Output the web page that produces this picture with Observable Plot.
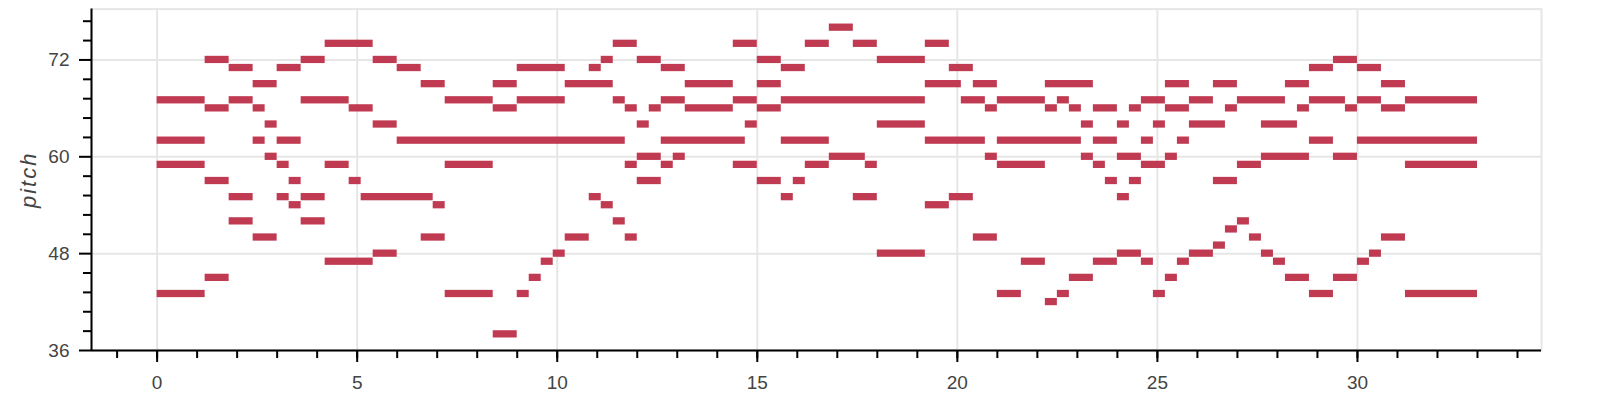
<!DOCTYPE html>
<html>
<head>
<meta charset="utf-8">
<script src="https://cdn.jsdelivr.net/npm/d3@7"></script>
<script src="https://cdn.jsdelivr.net/npm/@observablehq/plot@0.6"></script>
<style>
  html, body { margin: 0; padding: 0; background: #fff; }
</style>
</head>
<body>
<div id="chart"></div>
<script>
// Seconds per eighth-note step
const STEP = 0.3;

// Notes as [pitch, [[startStep, endStep], ...]] grouped by register
const upperRows = [
  [76, [[56,58]]],
  [74, [[14,18],[38,40],[48,50],[54,56],[58,60],[64,66]]],
  [72, [[4,6],[12,14],[18,20],[37,38],[40,42],[50,52],[60,64],[98,100]]],
  [71, [[6,8],[10,12],[20,22],[30,34],[36,37],[42,44],[52,54],[66,68],[96,98],[100,102]]],
  [69, [[8,10],[22,24],[28,30],[34,38],[44,48],[50,52],[64,67],[68,70],[74,78],[84,86],[88,90],[94,96],[102,104]]]
];
const middleUpperRows = [
  [67, [[0,4],[6,8],[12,16],[24,28],[30,34],[38,39],[42,44],[48,50],[52,64],[67,69],[70,74],[75,76],[82,84],[86,88],[90,94],[96,99],[100,102],[104,110]]],
  [66, [[4,6],[8,9],[16,18],[28,30],[39,40],[41,42],[44,48],[50,52],[69,70],[74,75],[76,77],[78,80],[81,82],[84,86],[89,90],[95,96],[99,100],[102,104]]],
  [64, [[9,10],[18,20],[40,41],[49,50],[60,64],[77,78],[80,81],[83,84],[86,89],[92,95]]],
  [62, [[0,4],[8,9],[10,12],[20,39],[42,49],[52,56],[64,69],[70,77],[78,80],[82,83],[85,86],[96,98],[100,110]]]
];
const middleLowerRows = [
  [60, [[9,10],[40,42],[43,44],[56,59],[69,70],[77,78],[80,82],[84,85],[92,96],[98,100]]],
  [59, [[0,4],[10,11],[14,16],[24,28],[39,40],[42,43],[48,50],[54,56],[59,60],[70,74],[78,79],[82,84],[90,92],[104,110]]],
  [57, [[4,6],[11,12],[16,17],[40,42],[50,52],[53,54],[79,80],[81,82],[88,90]]],
  [55, [[6,8],[10,11],[12,14],[17,23],[36,37],[52,53],[58,60],[66,68],[80,81]]],
  [54, [[11,12],[23,24],[37,38],[64,66]]]
];
const lowerRows = [
  [52, [[6,8],[12,14],[38,39],[90,91]]],
  [51, [[89,90]]],
  [50, [[8,10],[22,24],[34,36],[39,40],[68,70],[91,92],[102,104]]],
  [49, [[88,89]]],
  [48, [[18,20],[33,34],[60,64],[80,82],[86,88],[92,93],[101,102]]],
  [47, [[14,18],[32,33],[72,74],[78,80],[82,83],[85,86],[93,94],[100,101]]],
  [45, [[4,6],[31,32],[76,78],[84,85],[94,96],[98,100]]],
  [43, [[0,4],[24,28],[30,31],[70,72],[75,76],[83,84],[96,98],[104,110]]],
  [42, [[74,75]]],
  [38, [[28,30]]]
];

// Axis ticks and labels
const xMajorTicks = [0, 5, 10, 15, 20, 25, 30];
const xMinorTicks = [-1,0,1,2,3,4,5,6,7,8,9,10,11,12,13,14,15,16,17,18,19,20,21,22,23,24,25,26,27,28,29,30,31,32,33,34];
const yMajorTicks = [36, 48, 60, 72];
const yMinorTicks = [38.4, 40.8, 43.2, 45.6, 50.4, 52.8, 55.2, 57.6, 62.4, 64.8, 67.2, 69.6, 74.4, 76.8];
const yLabel = "pitch";

const xDomain = [-1.64, 34.6];
const yDomain = [36, 78.3];

const notes = [...upperRows, ...middleUpperRows, ...middleLowerRows, ...lowerRows]
  .flatMap(([pitch, spans]) => spans.map(([s, e]) => ({pitch, start: s * STEP, end: e * STEP})));

const BAR = "#c03a51";
const GRID = "#e6e6e6";

const chart = Plot.plot({
  width: 1600,
  height: 400,
  marginLeft: 91,
  marginRight: 59,
  marginTop: 8.6,
  marginBottom: 50,
  x: {domain: xDomain},
  y: {domain: yDomain},
  style: {fontFamily: "'Liberation Sans', Arial, Helvetica, sans-serif", background: "#fff"},
  marks: [
    Plot.frame({stroke: GRID, strokeWidth: 2}),
    Plot.gridX(xMajorTicks, {stroke: GRID, strokeOpacity: 1, strokeWidth: 2}),
    Plot.gridY(yMajorTicks, {stroke: GRID, strokeOpacity: 1, strokeWidth: 2}),
    Plot.rect(notes, {
      x1: "start", x2: "end",
      y1: d => d.pitch - 0.45, y2: d => d.pitch + 0.45,
      fill: BAR
    }),
    Plot.ruleY([yDomain[0]], {stroke: "#000", strokeWidth: 2}),
    Plot.ruleX([xDomain[0]], {stroke: "#000", strokeWidth: 2}),
    // x axis
    Plot.axisX(xMinorTicks, {tickSize: 8, text: null, label: null, stroke: "#000", strokeWidth: 2}),
    Plot.axisX(xMajorTicks, {tickSize: 12, tickPadding: 13, label: null,
      tickFormat: d => String(d), stroke: "#000", fill: "#444", strokeWidth: 2}),
    // y axis
    Plot.axisY(yMinorTicks, {tickSize: 8, text: null, label: null, stroke: "#000", strokeWidth: 2}),
    Plot.axisY(yMajorTicks, {tickSize: 12, tickPadding: 10, label: null,
      tickFormat: d => String(d), stroke: "#000", fill: "#444", strokeWidth: 2}),
    Plot.text([yLabel], {
      frameAnchor: "left", textAnchor: "middle", rotate: -90, dx: -63, text: d => d,
      fontSize: 22, fontStyle: "italic", fill: "#444"
    })
  ]
});

// text sizing: tick labels larger, axis title slightly spaced
chart.querySelectorAll("text").forEach(t => {
  if (t.textContent === yLabel) {
    t.setAttribute("letter-spacing", "2");
  } else {
    t.style.fontSize = "19px";
  }
});

document.getElementById("chart").appendChild(chart);
</script>
</body>
</html>
